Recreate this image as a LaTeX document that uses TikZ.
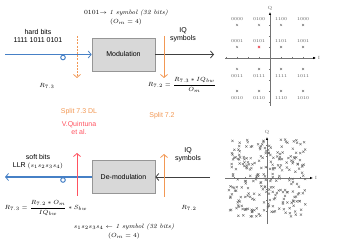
\documentclass[tikz,border=0pt]{standalone}
\usepackage{amsmath}
\usepackage{fontspec}
\newfontfamily\lsans{Liberation Sans}
\usetikzlibrary{arrows.meta}
\definecolor{cblue}{RGB}{70,128,198}
\definecolor{corange}{RGB}{242,152,84}
\definecolor{cred}{RGB}{255,82,96}
\definecolor{cbox}{RGB}{216,216,216}
\definecolor{cboxd}{RGB}{150,150,150}
\definecolor{cpt}{RGB}{100,100,100}
\begin{document}
\begin{tikzpicture}[x=1pt,y=-1pt,
  lbl/.style={font=\lsans\fontsize{7}{8}\selectfont, align=center, inner sep=0},
  mth/.style={font=\fontsize{6.3}{9}\selectfont, align=center, inner sep=0},
  blk/.style={draw=cboxd, fill=cbox, line width=0.6pt, minimum width=63pt, minimum height=33pt, inner sep=0, font=\lsans\fontsize{7}{8}\selectfont},
  barb/.style={-{Straight Barb[length=3pt,width=7pt,line width=0.8pt]}},
  bluearr/.style={barb, draw=cblue, line width=1.2pt},
  orarr/.style={barb, draw=corange, line width=1pt},
  redarr/.style={barb, draw=cred, line width=1pt},
  blkarr/.style={barb, draw=black!75, line width=0.7pt},
  axis/.style={draw=black!55, line width=0.8pt, -{Latex[length=3pt,width=2.5pt,black]}},
  tick/.style={draw=black!55, line width=0.4pt},
  bits/.style={font=\fontsize{4.4}{5}\selectfont, text=black!65, inner sep=0},
  mk/.style={draw=cpt, line width=0.35pt},
  axl/.style={font=\fontsize{4.5}{5}\selectfont, text=black!60, inner sep=0}]
\useasboundingbox (0,0) rectangle (363,245);

% ---------- top row ----------
\node[blk] (mod) at (123.5,54.5) {Modulation};
\coordinate (hbL) at (5,54.5);
\draw[bluearr] (hbL) -- (mod.west);
\node[draw=cblue, line width=1pt, circle, minimum size=4.6pt, inner sep=0] (c1) at (63,57.5) {};
\coordinate (iqR) at (214,54.5);
\draw[blkarr] (mod.east) -- (iqR);
\coordinate (o1a) at (77,36);
\coordinate (o1b) at (77,78);
\draw[orarr, dashed, dash pattern=on 2pt off 1.2pt] (o1a) -- (o1b);
\coordinate (o2a) at (164,36);
\coordinate (o2b) at (164,78);
\draw[orarr] (o2a) -- (o2b);

\node[lbl] (hard) at (38,36.5) {hard bits\\1111 1011 0101};
\node[mth] (topsym) at (126,17.5) {0101$\rightarrow$ \textit{1 symbol (32 bits)}\\$(O_m=4)$};
\node[lbl] (iqt) at (183,34.5) {IQ\\symbols};
\node[mth] (r73a) at (47,86) {$R_{7.3}$};
\node[mth] (r72a) at (182,85) {$R_{7.2}=\dfrac{R_{7.3}*IQ_{bw}}{O_m}$};

\node[lbl, text=corange] (s73) at (79,112) {Split 7.3 DL};
\node[lbl, text=cred] (vq) at (79,128.5) {V.Quintuna\\et al.};
\node[lbl, text=corange] (s72) at (162,116) {Split 7.2};

% ---------- bottom row ----------
\node[blk] (demod) at (123.5,177) {De-modulation};
\coordinate (sbL) at (5,177);
\draw[bluearr] (demod.west) -- (sbL);
\node[draw=cblue, line width=1pt, circle, minimum size=4.6pt, inner sep=0] (c2) at (63,180) {};
\coordinate (iqR2) at (210,177);
\draw[blkarr] (iqR2) -- (demod.east);
\coordinate (r1a) at (77,196);
\coordinate (r1b) at (77,153);
\draw[redarr] (r1a) -- (r1b);
\coordinate (o3a) at (164,197);
\coordinate (o3b) at (164,154);
\draw[orarr] (o3a) -- (o3b);

\node[lbl] (soft) at (38,162) {soft bits\\LLR {\fontsize{6.5}{8}\selectfont$(s_1s_2s_3s_4)$}};
\node[lbl] (iqb) at (188,155) {IQ\\symbols};
\node[mth] (r73b) at (46,208) {$R_{7.3}=\dfrac{R_{7.2}*O_m}{IQ_{bw}}*S_{bw}$};
\node[mth] (r72b) at (189,208) {$R_{7.2}$};
\node[mth] (botsym) at (124,231) {$s_1s_2s_3s_4\leftarrow$ \textit{1 symbol (32 bits)}\\$(O_m=4)$};

% ---------- ideal constellation ----------
\coordinate (k1) at (270,58);
\coordinate (k1l) at (225,58);
\coordinate (k1r) at (316,58);
\coordinate (k1b) at (270,106);
\coordinate (k1t) at (270,12);
\foreach \t in {-44,-33,-22,-11,11,22,33,44}{
  \draw[tick] (270+\t,56.8) -- (270+\t,59.2);
  \draw[tick] (268.8,58+\t) -- (271.2,58+\t);
}
\draw[axis] (k1l) -- (k1r);
\draw[axis] (k1b) -- (k1t);
\node[axl] (ilab1) at (319,58) {I};
\node[axl] (qlab1) at (270,8) {Q};
\foreach \x/\a/\b/\c/\d in {237/0000/0001/0011/0010, 259/0100/0101/0111/0110, 281/1100/1101/1111/1110, 303/1000/1001/1011/1010}{
  \node[bits] at (\x,19) {\a};
  \node[bits] at (\x,41) {\b};
  \node[bits] at (\x,76) {\c};
  \node[bits] at (\x,98) {\d};
  \foreach \y in {25,47,69,91}{
    \draw[mk] (\x-1.1,\y-1.1) -- (\x+1.1,\y+1.1) (\x-1.1,\y+1.1) -- (\x+1.1,\y-1.1);
  }
}
\draw[draw=cred, line width=0.45pt] (257.9,45.9) -- (260.1,48.1) (257.9,48.1) -- (260.1,45.9);

% ---------- noisy constellation ----------
\coordinate (k2l) at (225,178);
\coordinate (k2r) at (313,178);
\coordinate (k2b) at (267,224);
\coordinate (k2t) at (267,137);
\draw[axis] (k2l) -- (k2r);
\draw[axis] (k2b) -- (k2t);
\foreach \t in {-33,-22,-11,11,22,33}{
  \draw[tick] (267+\t,176.8) -- (267+\t,179.2);
  \draw[tick] (265.8,178+\t) -- (268.2,178+\t);
}
\node[axl] (ilab2) at (316,178) {I};
\node[axl] (qlab2) at (267,132) {Q};
\pgfmathsetseed{12}
\foreach \cx in {-29,-10,10,29}{
  \foreach \cy in {-29,-10,10,29}{
    \foreach \k in {1,...,16}{
      \pgfmathsetmacro\px{267+\cx+9.5*rand}
      \pgfmathsetmacro\py{178+\cy+9.5*rand}
      \draw[mk] (\px-1.1,\py-1.1) -- (\px+1.1,\py+1.1) (\px-1.1,\py+1.1) -- (\px+1.1,\py-1.1);
    }
  }
}
\end{tikzpicture}
\end{document}
